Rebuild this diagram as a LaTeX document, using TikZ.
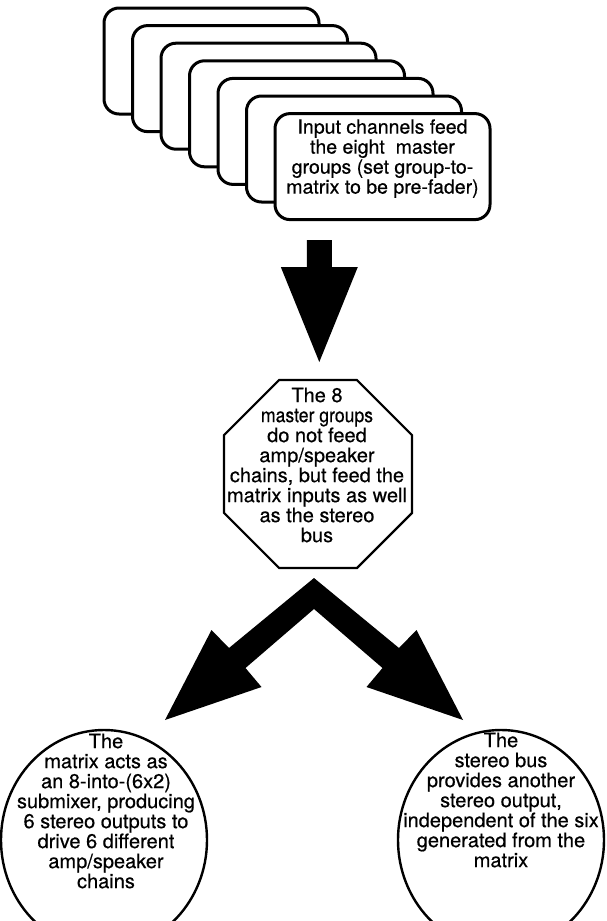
\documentclass[tikz,border=0pt]{standalone}
\usepackage{fontspec}
\setmainfont{TeX Gyre Heros}
\newfontfamily\inkfont[FakeBold=0.5]{TeX Gyre Heros}
\usetikzlibrary{shapes.geometric}
\begin{document}
\begin{tikzpicture}[x=1pt,y=-1pt,
  card/.style={draw, line width=3pt, fill=white, rounded corners=15pt,
    minimum width=215pt, minimum height=106pt, inner sep=0pt, anchor=north west},
  txt/.style={align=center, font=\inkfont\fontsize{20}{20}\selectfont, inner sep=0pt},
  octo/.style={regular polygon, regular polygon sides=8, draw, line width=2.2pt,
    minimum size=203.5pt, inner sep=0pt},
  oval/.style={ellipse, draw, line width=2.4pt, minimum width=206pt,
    minimum height=220pt, inner sep=0pt},
  block/.style={fill=black, draw=none}
]
\useasboundingbox (0,0) rectangle (607,921);
\clip (0,0) rectangle (607,921);

% stack of input-channel cards, back to front
\foreach \i in {0,...,5}
  \node[card] (card\i) at ({102.5+28.5*\i},{6.5+17.6*\i}) {};
\node[card] (front) at (273.5,112.1) {};
\node[txt, font=\inkfont\fontsize{19.5}{20}\selectfont] (fronttext) at ([yshift=8pt]front.center)
  {Input channels feed\\the eight\ \ master\\groups (set group-to-\\matrix to be pre-fader)};

% master groups
\node[octo] (groups) at (318,474) {};
\node[txt] (groupstext) at (317,465)
  {The 8\\\scalebox{0.88}[1]{master groups}\\do not feed\\amp/speaker\\chains, but feed the\\matrix inputs as well\\as the stereo\\bus};

% matrix and stereo bus
\node[oval] (matrix) at (104,840) {};
\node[txt] (matrixtext) at (106,811)
  {The\\matrix acts as\\an 8-into-(6x2)\\submixer, producing\\6 stereo outputs to\\drive 6 different\\amp/speaker\\chains};
\node[oval] (stereo) at (501,840) {};
\node[txt] (stereotext) at (501,800)
  {The\\stereo bus\\provides another\\stereo output,\\independent of the six\\generated from the\\matrix};

% heavy arrow from the cards down to the groups
\fill[block] (306.8,240) -- (331.8,240) -- (331.8,267) -- (357.8,267)
  -- (319.3,362) -- (280.8,267) -- (306.8,267) -- cycle;

% forked arrow from the groups to matrix and stereo bus
\fill[block] (314,578) -- (399,648) -- (416.5,630) -- (463,720) -- (366.5,687)
  -- (382.5,668) -- (314,609) -- (245.5,668) -- (261.5,687) -- (165,720)
  -- (211.5,630) -- (229,648) -- cycle;
\end{tikzpicture}
\end{document}
